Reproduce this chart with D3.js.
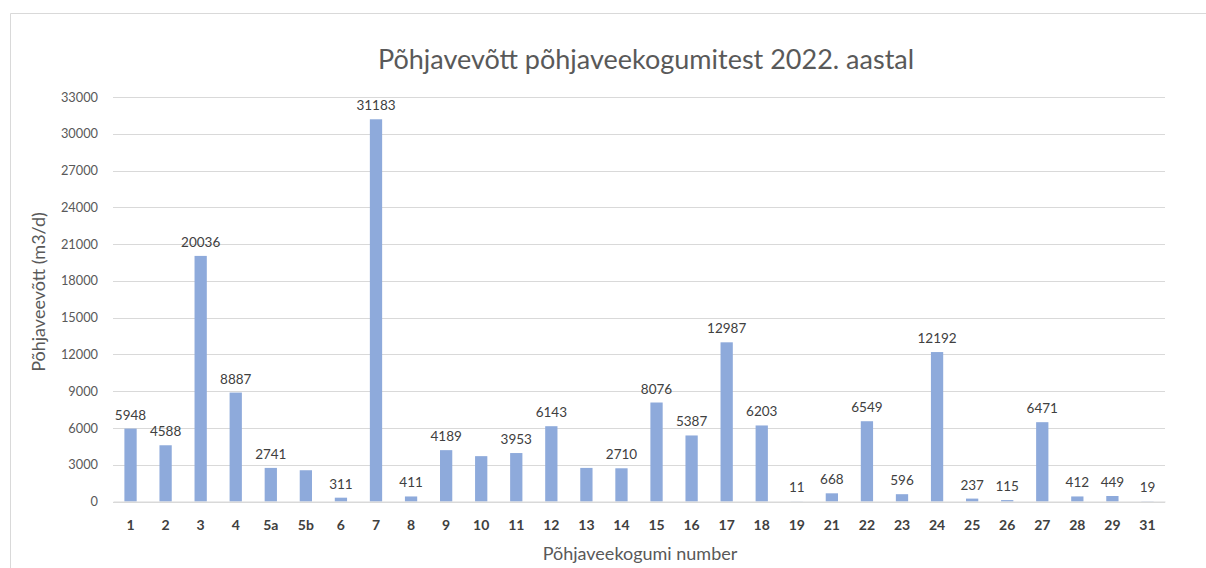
<!DOCTYPE html>
<html><head><meta charset="utf-8">
<script src="https://cdn.jsdelivr.net/npm/d3@7"></script>
<style>body{margin:0;background:#fff;} text{font-family:Lato,"Open Sans",sans-serif;}</style>
</head><body><svg id="c" width="1206" height="568"></svg>
<script>
const categories = ["1","2","3","4","5a","5b","6","7","8","9","10","11","12","13","14","15","16","17","18","19","21","22","23","24","25","26","27","28","29","31"];
const values = [5948,4588,20036,8887,2741,2550,311,31183,411,4189,3700,3953,6143,2740,2710,8076,5387,12987,6203,11,668,6549,596,12192,237,115,6471,412,449,19];
const showLabel = [true,true,true,true,true,false,true,true,true,true,false,true,true,false,true,true,true,true,true,true,true,true,true,true,true,true,true,true,true,true];
const yTicks = [0,3000,6000,9000,12000,15000,18000,21000,24000,27000,30000,33000];
const title = "Põhjavevõtt põhjaveekogumitest 2022. aastal";
const xTitle = "Põhjaveekogumi number";
const yTitle = "Põhjaveevõtt (m3/d)";

const svg = d3.select("#c");
// frame
svg.append("path").attr("d","M10.5,568 L10.5,13.5 L1206,13.5").attr("fill","none").attr("stroke","#d9d9d9").attr("stroke-width",1);

const L=113, R=1165, T=97, B=501.5;
const x = d3.scaleBand().domain(categories).range([L,R]).paddingInner(0.65).paddingOuter(0.325);
const y = d3.scaleLinear().domain([0,33000]).range([B,T]);

// gridlines
svg.append("g").selectAll("line").data(yTicks).join("line")
  .attr("x1",L).attr("x2",R).attr("y1",d=>Math.round(y(d))+0.5).attr("y2",d=>Math.round(y(d))+0.5)
  .attr("stroke","#d9d9d9").attr("stroke-width",1);

// y axis
const ya = svg.append("g").attr("transform",`translate(${L},0)`).call(d3.axisLeft(y).tickValues(yTicks).tickSize(0).tickPadding(15).tickFormat(d3.format("d")));
ya.select(".domain").remove();
ya.selectAll("text").attr("fill","#595959").style("font-size","12.8px").style("font-family","Lato,'Open Sans',sans-serif");

// bars
svg.append("g").selectAll("rect").data(values).join("rect")
  .attr("x",(d,i)=>x(categories[i])).attr("width",x.bandwidth())
  .attr("y",d=>y(d)).attr("height",d=>B-y(d)).attr("fill","#8eaadb");

// labels
svg.append("g").selectAll("text").data(values.map((v,i)=>({v,i})).filter(d=>showLabel[d.i])).join("text")
  .attr("x",d=>x(categories[d.i])+x.bandwidth()/2).attr("y",d=>y(d.v)-9)
  .attr("text-anchor","middle").attr("fill","#404040").style("font-size","13.5px").text(d=>d.v);

// x axis
const xa = svg.append("g").attr("transform",`translate(0,${B})`).call(d3.axisBottom(x).tickSize(0).tickPadding(19));
xa.select(".domain").attr("stroke","#d9d9d9");
xa.selectAll("text").attr("fill","#404040").style("font-size","14px").style("font-weight","bold").style("font-family","Lato,'Open Sans',sans-serif");

// titles
svg.append("text").attr("x",646).attr("y",69).attr("text-anchor","middle").attr("fill","#595959").style("font-size","27px").text(title);
svg.append("text").attr("x",640).attr("y",560).attr("text-anchor","middle").attr("fill","#595959").style("font-size","18px").text(xTitle);
svg.append("text").attr("transform","translate(45,292) rotate(-90)").attr("text-anchor","middle").attr("fill","#595959").style("font-size","18px").text(yTitle);
</script></body></html>
